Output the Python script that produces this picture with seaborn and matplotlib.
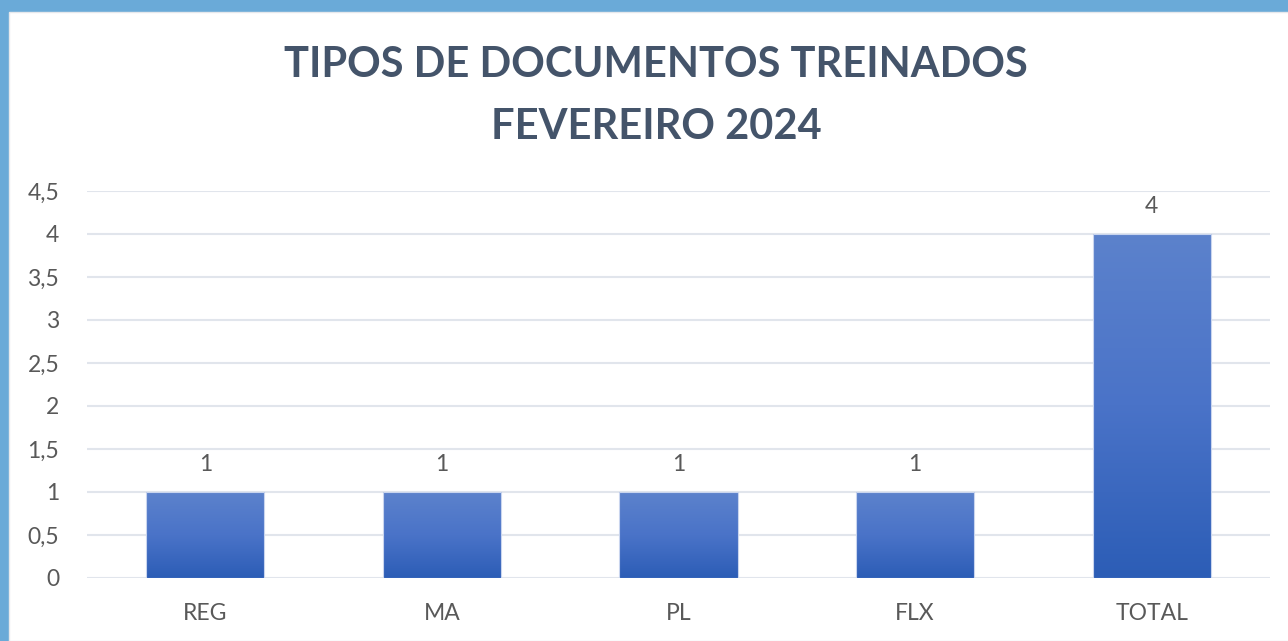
import numpy as np
import pandas as pd
import matplotlib.pyplot as plt
import seaborn as sns
from matplotlib.patches import Rectangle
from matplotlib.colors import LinearSegmentedColormap
from matplotlib.ticker import FuncFormatter, MultipleLocator


categorias = ["REG", "MA", "PL", "FLX", "TOTAL"]
quantidades = [1, 1, 1, 1, 4]
titulo = "TIPOS DE DOCUMENTOS TREINADOS\nFEVEREIRO 2024"

df = pd.DataFrame({"tipo": categorias, "qtd": quantidades})

sns.set_theme(style="white")
plt.rcParams["font.family"] = ["Lato", "DejaVu Sans"]

fig = plt.figure(figsize=(12.88, 6.41), dpi=100)
fig.patch.set_facecolor("#6aaad8")
# white card inside the blue frame
fig.patches.append(Rectangle((9 / 1288, 0), 1, 1 - 12 / 641, transform=fig.transFigure,
                             facecolor="white", edgecolor="#e6e8ec", lw=1, zorder=-10))

ax = fig.add_axes([87 / 1288, 1 - 578 / 641, (1270 - 87) / 1288, (578 - 191) / 641])
ax.set_facecolor("none")
ax.set_zorder(5)

sns.barplot(data=df, x="tipo", y="qtd", color="#3f6cc4", width=0.5, ax=ax, zorder=3)

# vertical gradient fill clipped to each bar
cmap = LinearSegmentedColormap.from_list("grad", ["#2c5db6", "#4a73c8", "#5c82cc"])
grad = np.linspace(0, 1, 256).reshape(-1, 1)
for bar in ax.patches:
    x0, y0 = bar.get_x(), bar.get_y()
    w, h = bar.get_width(), bar.get_height()
    bar.set_facecolor("none")
    bar.set_edgecolor("#c9d5ee")
    bar.set_linewidth(0.8)
    im = ax.imshow(grad, extent=[x0, x0 + w, y0, y0 + h], origin="lower", cmap=cmap,
                   aspect="auto", zorder=2)
    im.set_clip_path(bar)

ax.set_xlim(-0.5, len(categorias) - 0.5)
ax.set_ylim(0, 4.5)
ax.yaxis.set_major_locator(MultipleLocator(0.5))
ax.yaxis.set_major_formatter(FuncFormatter(lambda v, p: f"{v:g}".replace(".", ",")))
ax.grid(axis="y", color="#e1e5ec", lw=1.5, zorder=0)
ax.set_axisbelow(True)
for s in ax.spines.values():
    s.set_visible(False)
ax.tick_params(axis="both", length=0, labelsize=16.5, colors="#595959")
ax.tick_params(axis="x", pad=18)
ax.tick_params(axis="y", pad=20)
ax.set_xlabel("")
ax.set_ylabel("")

for container in ax.containers:
    ax.bar_label(container, fmt="%d", padding=12, fontsize=16.5, color="#595959")

fig.text(656 / 1288, 1 - 96 / 641, titulo, ha="center", va="center", fontsize=30,
         fontweight="bold", color="#44546a", linespacing=1.75)

fig.savefig("out.png", dpi=100, facecolor=fig.get_facecolor())
